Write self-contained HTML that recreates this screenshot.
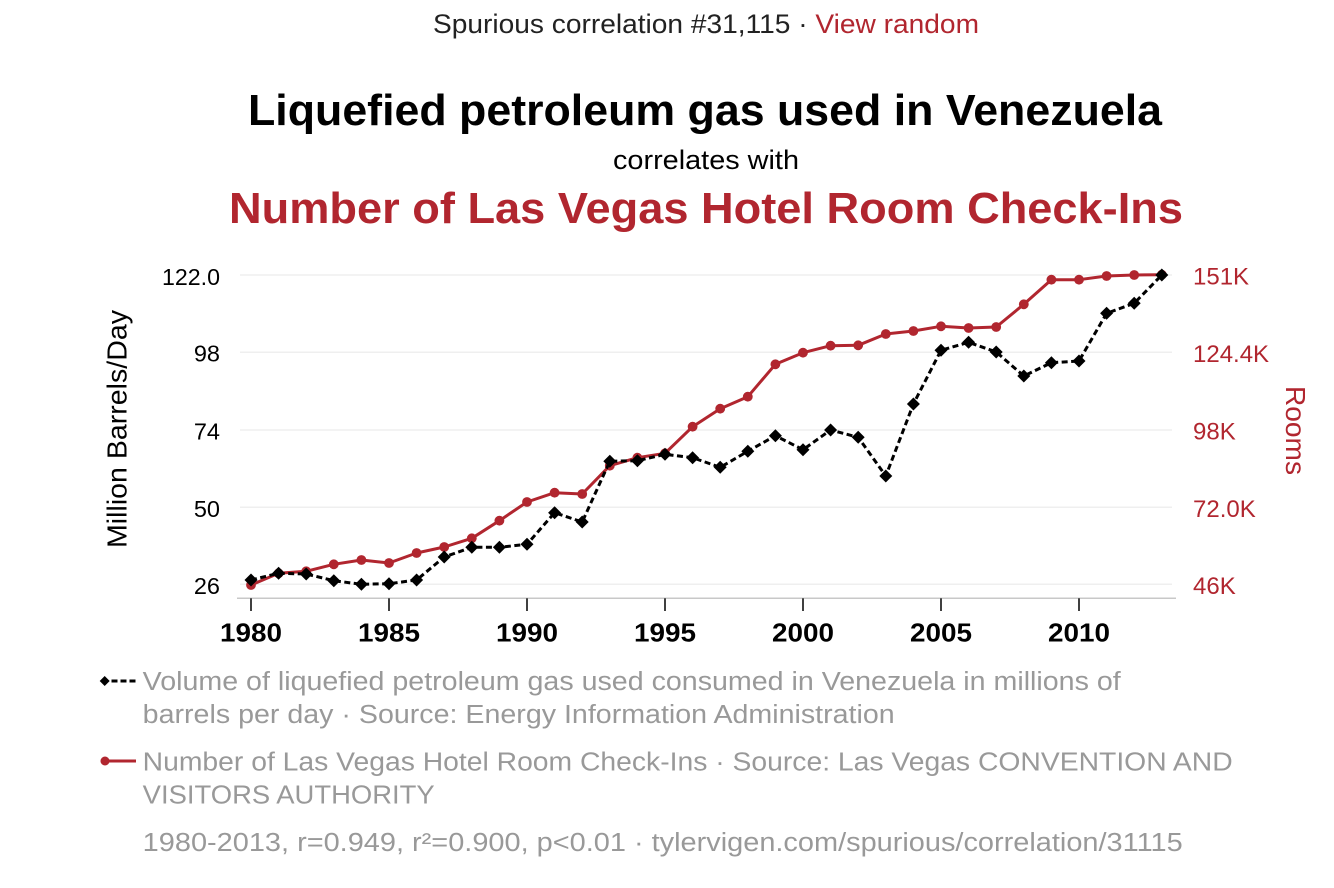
<!DOCTYPE html>
<html>
<head>
<meta charset="utf-8">
<style>
  html,body{margin:0;padding:0;background:#fff;}
  svg{display:block;}
  text{font-family:"Liberation Sans", Arial, Helvetica, sans-serif;}
</style>
</head>
<body>
<svg width="1334" height="888" viewBox="0 0 1334 888" xmlns="http://www.w3.org/2000/svg">
  <defs>
    <marker id="dia" markerWidth="16" markerHeight="16" refX="8" refY="8" markerUnits="userSpaceOnUse">
      <path d="M8 1.5 L14.5 8 L8 14.5 L1.5 8 Z" fill="#000" stroke="none"/>
    </marker>
    <marker id="dot" markerWidth="12" markerHeight="12" refX="6" refY="6" markerUnits="userSpaceOnUse">
      <circle cx="6" cy="6" r="4.9" fill="#b1262f" stroke="none"/>
    </marker>
  </defs>

  <!-- Header -->
  <text x="706" y="33" font-size="27" text-anchor="middle" textLength="546" lengthAdjust="spacingAndGlyphs" fill="#222">Spurious correlation #31,115 · <tspan fill="#b1262f">View random</tspan></text>
  <text x="705" y="125" font-size="44" font-weight="bold" text-anchor="middle" textLength="914" lengthAdjust="spacingAndGlyphs" fill="#000">Liquefied petroleum gas used in Venezuela</text>
  <text x="706" y="169" font-size="27" text-anchor="middle" textLength="186" lengthAdjust="spacingAndGlyphs" fill="#000">correlates with</text>
  <text x="706" y="223" font-size="44" font-weight="bold" text-anchor="middle" textLength="954" lengthAdjust="spacingAndGlyphs" fill="#b1262f">Number of Las Vegas Hotel Room Check-Ins</text>

  <!-- Gridlines -->
  <g stroke="#efefef" stroke-width="1.5">
    <line x1="240" y1="275" x2="1172" y2="275"/>
    <line x1="240" y1="352.3" x2="1172" y2="352.3"/>
    <line x1="240" y1="430" x2="1172" y2="430"/>
    <line x1="240" y1="507.3" x2="1172" y2="507.3"/>
    <line x1="240" y1="584.3" x2="1172" y2="584.3"/>
  </g>
  <!-- X axis -->
  <line x1="237" y1="598.3" x2="1176" y2="598.3" stroke="#c8c8c8" stroke-width="1.5"/>
  <g stroke="#000" stroke-width="1.5">
    <line x1="251" y1="598.3" x2="251" y2="611"/>
    <line x1="389" y1="598.3" x2="389" y2="611"/>
    <line x1="527" y1="598.3" x2="527" y2="611"/>
    <line x1="665" y1="598.3" x2="665" y2="611"/>
    <line x1="803" y1="598.3" x2="803" y2="611"/>
    <line x1="941" y1="598.3" x2="941" y2="611"/>
    <line x1="1079" y1="598.3" x2="1079" y2="611"/>
  </g>
  <g font-size="26" font-weight="bold" fill="#000" text-anchor="middle">
    <text x="251" y="641.7" textLength="62" lengthAdjust="spacingAndGlyphs">1980</text>
    <text x="389" y="641.7" textLength="62" lengthAdjust="spacingAndGlyphs">1985</text>
    <text x="527" y="641.7" textLength="62" lengthAdjust="spacingAndGlyphs">1990</text>
    <text x="665" y="641.7" textLength="62" lengthAdjust="spacingAndGlyphs">1995</text>
    <text x="803" y="641.7" textLength="62" lengthAdjust="spacingAndGlyphs">2000</text>
    <text x="941" y="641.7" textLength="62" lengthAdjust="spacingAndGlyphs">2005</text>
    <text x="1079" y="641.7" textLength="62" lengthAdjust="spacingAndGlyphs">2010</text>
  </g>

  <!-- Left axis labels -->
  <g font-size="23.5" fill="#000" text-anchor="end">
    <text x="220" y="285" textLength="58" lengthAdjust="spacingAndGlyphs">122.0</text>
    <text x="220" y="361.7">98</text>
    <text x="220" y="439.5">74</text>
    <text x="220" y="516.8">50</text>
    <text x="220" y="594">26</text>
  </g>
  <text transform="translate(126.5,429) rotate(-90)" font-size="28" text-anchor="middle" fill="#000" textLength="238" lengthAdjust="spacingAndGlyphs">Million Barrels/Day</text>

  <!-- Right axis labels -->
  <g font-size="24" fill="#b1262f" text-anchor="start">
    <text x="1193" y="284.5">151K</text>
    <text x="1193" y="362">124.4K</text>
    <text x="1193" y="439.5">98K</text>
    <text x="1193" y="516.8">72.0K</text>
    <text x="1193" y="594">46K</text>
  </g>
  <text transform="translate(1286,430.5) rotate(90)" font-size="28" text-anchor="middle" fill="#b1262f" textLength="89" lengthAdjust="spacingAndGlyphs">Rooms</text>

  <!-- Red series -->
  <polyline fill="none" stroke="#b1262f" stroke-width="3" stroke-linejoin="round"
    marker-start="url(#dot)" marker-mid="url(#dot)" marker-end="url(#dot)"
    points="251,585 278.6,573.3 306.2,571.3 333.8,564.3 361.4,560 389,563 416.6,553 444.2,547 471.8,538.3 499.4,520.7 527,502 554.6,492.7 582.2,494 609.8,465.7 637.4,457.7 665,453.3 692.6,426.7 720.2,408.7 747.8,396.7 775.4,364.3 803,352.7 830.6,345.7 858.2,345.3 885.8,334 913.4,331 941,326.3 968.6,328 996.2,327 1023.8,304.3 1051.4,279.7 1079,279.7 1106.6,276 1134.2,275 1161.8,274.7"/>

  <!-- Black series -->
  <polyline fill="none" stroke="#000" stroke-width="3" stroke-dasharray="6,3.5"
    marker-start="url(#dia)" marker-mid="url(#dia)" marker-end="url(#dia)"
    points="251,580 278.6,573.3 306.2,574 333.8,580.7 361.4,584.3 389,583.7 416.6,580 444.2,557 471.8,547.3 499.4,547.3 527,544.3 554.6,512.7 582.2,522 609.8,461.3 637.4,460.7 665,454.3 692.6,457.7 720.2,467.3 747.8,451.3 775.4,435.7 803,449.7 830.6,430 858.2,437.3 885.8,476 913.4,404 941,350.3 968.6,342.3 996.2,352 1023.8,376 1051.4,362.7 1079,361 1106.6,313.3 1134.2,303.3 1161.8,275"/>

  <!-- Legend -->
  <path d="M104.7 676 L109.7 681 L104.7 686 L99.7 681 Z" fill="#000"/>
  <line x1="111.5" y1="681" x2="136" y2="681" stroke="#000" stroke-width="3" stroke-dasharray="6,3"/>
  <g font-size="25.5" fill="#999">
    <text x="142.7" y="690" textLength="978" lengthAdjust="spacingAndGlyphs">Volume of liquefied petroleum gas used consumed in Venezuela in millions of</text>
    <text x="142.7" y="723" textLength="752" lengthAdjust="spacingAndGlyphs">barrels per day · Source: Energy Information Administration</text>
    <text x="142.7" y="770.7" textLength="1090" lengthAdjust="spacingAndGlyphs">Number of Las Vegas Hotel Room Check-Ins · Source: Las Vegas CONVENTION AND</text>
    <text x="142.7" y="803.3" textLength="292" lengthAdjust="spacingAndGlyphs">VISITORS AUTHORITY</text>
    <text x="142.7" y="851" textLength="1040" lengthAdjust="spacingAndGlyphs">1980-2013, r=0.949, r²=0.900, p&lt;0.01 · tylervigen.com/spurious/correlation/31115</text>
  </g>
  <line x1="105" y1="761" x2="136" y2="761" stroke="#b1262f" stroke-width="3"/>
  <circle cx="105" cy="761" r="4.5" fill="#b1262f"/>
</svg>
</body>
</html>
